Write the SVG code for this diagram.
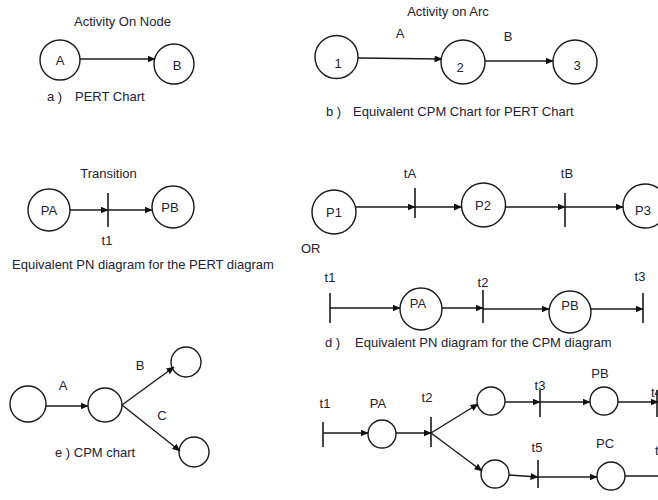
<svg xmlns="http://www.w3.org/2000/svg" width="658" height="500" viewBox="0 0 658 500">
<defs>
<marker id="ah" markerWidth="8" markerHeight="7" refX="7.5" refY="3.5" orient="auto" markerUnits="userSpaceOnUse">
<path d="M0,0 L8,3.5 L0,7 z" fill="#111"/>
</marker>
<style>
.n{fill:#fff;stroke:#1a1a1a;stroke-width:1.4}
.e{fill:none;stroke:#1a1a1a;stroke-width:1.4}
.a{fill:none;stroke:#1a1a1a;stroke-width:1.4;marker-end:url(#ah)}
.bar{stroke:#1a1a1a;stroke-width:1.6}
text{font-family:"Liberation Sans",Arial,sans-serif;font-size:13px;fill:#222233}
.c{text-anchor:middle}
</style>
</defs>
<rect width="658" height="500" fill="#fff"/>

<!-- a) PERT chart -->
<text class="c" x="122.5" y="26">Activity On Node</text>
<g id="a_A"><circle class="n" cx="60" cy="60" r="20"/><text class="c" x="60" y="64.5">A</text></g>
<g id="a_B"><circle class="n" cx="174" cy="64" r="20"/><text class="c" x="177" y="69.5">B</text></g>
<text x="47" y="101">a )</text><text x="75" y="101">PERT Chart</text>

<!-- b) CPM chart -->
<text class="c" x="448" y="16" font-size="11">Activity on Arc</text>
<g id="b_1"><circle class="n" cx="336.5" cy="57" r="21.5"/><text class="c" x="338" y="67.5">1</text></g>
<g id="b_2"><circle class="n" cx="463" cy="62" r="22"/><text class="c" x="460" y="71.5">2</text></g>
<g id="b_3"><circle class="n" cx="575" cy="62" r="22"/><text class="c" x="577" y="69.5">3</text></g>
<text class="c" x="400" y="37.5">A</text>
<text class="c" x="508" y="40.5">B</text>
<text x="326" y="116">b )</text><text x="353" y="116">Equivalent CPM Chart for PERT Chart</text>

<!-- c) PN for PERT -->
<text class="c" x="108.5" y="178">Transition</text>
<g id="c_PA"><circle class="n" cx="49" cy="210" r="21"/><text class="c" x="49" y="215">PA</text></g>
<g id="c_PB"><circle class="n" cx="173" cy="207" r="21"/><text class="c" x="170" y="212">PB</text></g>
<g id="c_t1"><line class="bar" x1="108" y1="193" x2="108" y2="227"/><text class="c" x="107" y="245">t1</text></g>
<text x="12" y="269">Equivalent PN diagram for the PERT diagram</text>

<!-- d top -->
<g id="d_P1"><circle class="n" cx="334" cy="212" r="22"/><text class="c" x="334" y="216.5">P1</text></g>
<g id="d_P2"><circle class="n" cx="483.5" cy="205" r="22"/><text class="c" x="483" y="209.5">P2</text></g>
<g id="d_P3"><circle class="n" cx="645" cy="206" r="22"/><text class="c" x="643" y="214.5">P3</text></g>
<g id="d_tA"><line class="bar" x1="415" y1="188" x2="415" y2="218"/><text class="c" x="410" y="178">tA</text></g>
<g id="d_tB"><line class="bar" x1="565" y1="193" x2="565" y2="227"/><text class="c" x="567" y="178">tB</text></g>
<text x="301" y="252.5">OR</text>

<!-- d bottom -->
<g id="d2_t1"><line class="bar" x1="330" y1="293" x2="330" y2="323"/><text class="c" x="330" y="282">t1</text></g>
<g id="d2_PA"><circle class="n" cx="421" cy="309" r="21"/><text class="c" x="418" y="308">PA</text></g>
<g id="d2_t2"><line class="bar" x1="483" y1="290" x2="483" y2="323"/><text class="c" x="483" y="287">t2</text></g>
<g id="d2_PB"><circle class="n" cx="570" cy="312" r="21"/><text class="c" x="570" y="310">PB</text></g>
<g id="d2_t3"><line class="bar" x1="643" y1="293" x2="643" y2="323"/><text class="c" x="640" y="281">t3</text></g>
<text x="325" y="347">d )</text><text x="355" y="347">Equivalent PN diagram for the CPM diagram</text>

<!-- e) CPM chart -->
<g id="e_1"><circle class="n" cx="28" cy="404" r="18"/></g>
<g id="e_2"><circle class="n" cx="105" cy="405" r="17"/></g>
<g id="e_3"><circle class="n" cx="186" cy="362" r="15"/></g>
<g id="e_4"><circle class="n" cx="194" cy="452" r="15"/></g>
<text class="c" x="63" y="389.5">A</text>
<text class="c" x="140" y="369.5">B</text>
<text class="c" x="162" y="419.5">C</text>
<text x="55" y="457">e ) CPM chart</text>

<!-- f) PN for CPM chart -->
<g id="f_t1"><line class="bar" x1="323" y1="422" x2="323" y2="447"/><text class="c" x="325" y="407.5">t1</text></g>
<g id="f_PA"><circle class="n" cx="382" cy="434" r="14"/><text class="c" x="378" y="407.5">PA</text></g>
<g id="f_t2"><line class="bar" x1="431" y1="417" x2="431" y2="447"/><text class="c" x="427" y="401.5">t2</text></g>
<g id="f_U"><circle class="n" cx="491" cy="401" r="14"/></g>
<g id="f_L"><circle class="n" cx="495" cy="474" r="14"/></g>
<g id="f_t3"><line class="bar" x1="540" y1="390" x2="540" y2="417"/><text class="c" x="540" y="389.5">t3</text></g>
<g id="f_PB"><circle class="n" cx="604" cy="401" r="14"/><text class="c" x="600" y="377.5">PB</text></g>
<g id="f_t4"><line class="bar" x1="657" y1="390" x2="657" y2="417"/><text x="651" y="397">t4</text></g>
<g id="f_t5"><line class="bar" x1="538" y1="460" x2="538" y2="488"/><text class="c" x="537" y="451.5">t5</text></g>
<g id="f_PC"><circle class="n" cx="611" cy="476" r="14"/><text class="c" x="605" y="447.5">PC</text></g>
<g id="f_t6"><text x="655" y="455">t6</text></g>

<!-- connectors -->
<g id="connectors">
<line class="a" x1="80" y1="59" x2="155" y2="59"/>
<line class="a" x1="358" y1="58" x2="442" y2="59"/>
<line class="a" x1="485" y1="61" x2="553" y2="61"/>
<line class="a" x1="70" y1="210" x2="108" y2="210"/>
<line class="a" x1="108" y1="210" x2="152" y2="210"/>
<line class="a" x1="355.5" y1="207" x2="415" y2="207"/>
<line class="a" x1="415" y1="207" x2="461.5" y2="207"/>
<line class="a" x1="505.5" y1="207" x2="565" y2="207"/>
<line class="a" x1="565" y1="207" x2="623" y2="207"/>
<line class="a" x1="330" y1="308" x2="400" y2="308"/>
<line class="a" x1="442" y1="308" x2="483" y2="308"/>
<line class="a" x1="483" y1="309" x2="549" y2="309"/>
<line class="a" x1="591" y1="309" x2="643" y2="309"/>
<line class="a" x1="46" y1="406" x2="88" y2="406"/>
<line class="a" x1="122" y1="405" x2="174" y2="367"/>
<line class="a" x1="122" y1="405" x2="180" y2="451"/>
<line class="a" x1="323" y1="433" x2="368" y2="433"/>
<line class="a" x1="396" y1="433" x2="431" y2="433"/>
<line class="a" x1="431" y1="433" x2="478" y2="404"/>
<line class="a" x1="431" y1="433" x2="482" y2="471"/>
<line class="a" x1="505" y1="402" x2="540" y2="402"/>
<line class="a" x1="540" y1="402" x2="590" y2="402"/>
<line class="a" x1="618" y1="402" x2="658" y2="402"/>
<line class="a" x1="509" y1="475" x2="538" y2="477"/>
<line class="a" x1="538" y1="477" x2="597" y2="477"/>
<line class="e" x1="625" y1="476" x2="658" y2="476"/>
</g>
</svg>
